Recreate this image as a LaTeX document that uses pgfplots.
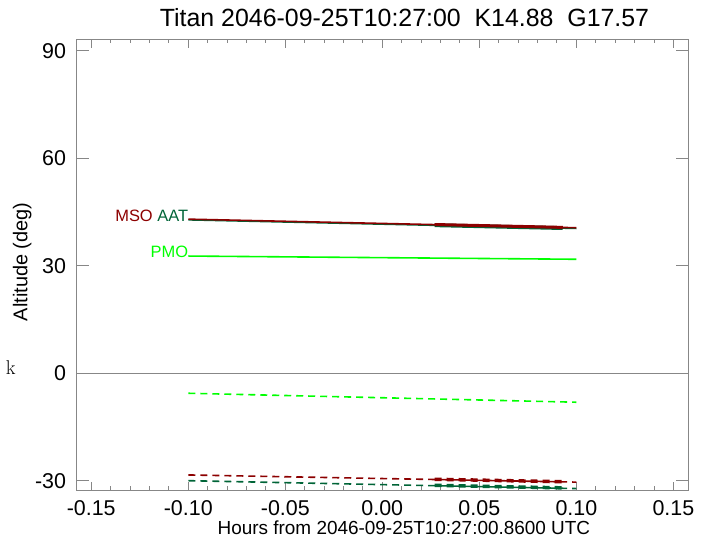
\documentclass[border=0pt]{standalone}
\usepackage{pgfplots}
\pgfplotsset{compat=1.18}
\usepackage{fontspec}
\setmainfont{Liberation Sans}
\definecolor{msored}{RGB}{140,0,0}
\definecolor{aatgreen}{RGB}{0,100,55}
\definecolor{pmogreen}{RGB}{0,255,0}
\definecolor{axgray}{RGB}{135,135,135}
\begin{document}
\begin{tikzpicture}
\path[use as bounding box] (-76.7bp,-49bp) rectangle (629.3bp,490bp);
\begin{axis}[
  scale only axis, width=611.6bp, height=450.7bp,
  at={(0,0)}, anchor=south west,
  xmin=-0.1575, xmax=0.1577, ymin=-32.6, ymax=93.2,
  xtick={-0.15,-0.1,-0.05,0,0.05,0.1,0.15},
  xticklabels={-0.15,-0.10,-0.05,0.00,0.05,0.10,0.15},
  minor x tick num=4,
  ytick={-30,0,30,60,90},
  yticklabels={-30,0,30,60,90},
  axis line style={axgray, line width=0.9bp},
  tick style={axgray, line width=0.9bp},
  major tick length=8.3bp, minor tick length=3.6bp,
  ytick style={/pgfplots/major tick length=12.6bp},
  ticklabel style={font=\fontsize{21.5}{23}\selectfont, text=black, inner sep=0pt},
  xticklabel style={anchor=north, yshift=-10bp},
  yticklabel style={anchor=east, xshift=-10.5bp},
  title={Titan 2046-09-25T10:27:00\ \ K14.88\ \ G17.57},
  title style={font=\fontsize{25}{27}\selectfont, at={(axis description cs:0.536,1)}, anchor=base, yshift=6.5bp, inner sep=0pt},
  xlabel={Hours from 2046-09-25T10:27:00.8600 UTC},
  ylabel={Altitude (deg)},
  xlabel style={font=\fontsize{19}{21}\selectfont, at={(axis description cs:0.535,0)}, anchor=base, yshift=-44bp, inner sep=0pt},
  ylabel style={font=\fontsize{20}{22}\selectfont, at={(axis description cs:-0.089,0.506)}, anchor=center, inner sep=0pt},
  clip=false,
]
% zero line
\addplot[axgray, line width=0.9bp] coordinates {(-0.1575,0) (0.1577,0)};
% AAT solid
\addplot[aatgreen, line width=1.6bp] coordinates {(-0.1,42.8) (0.1,40.4)};
\addplot[aatgreen, line width=3.8bp] coordinates {(0.027,41.3) (0.093,40.5)};
% MSO solid
\addplot[msored, line width=1.6bp] coordinates {(-0.1,43.0) (0.1,40.6)};
\addplot[msored, line width=3.0bp] coordinates {(0.027,41.5) (0.093,40.7)};
% PMO solid
\addplot[pmogreen, line width=1.6bp] coordinates {(-0.1,32.7) (0.1,31.8)};
% PMO dashed
\addplot[pmogreen, line width=1.6bp, dash pattern=on 7bp off 5bp] coordinates {(-0.1,-5.6) (0.1,-8.1)};
% MSO dashed
\addplot[msored, line width=1.6bp, dash pattern=on 7bp off 5bp] coordinates {(-0.1,-28.4) (0.1,-30.4)};
\addplot[msored, line width=3.5bp, dash pattern=on 7bp off 5bp] coordinates {(0.027,-29.6) (0.093,-30.3)};
% AAT dashed
\addplot[aatgreen, line width=1.6bp, dash pattern=on 7bp off 5bp] coordinates {(-0.1,-30.0) (0.1,-32.2)};
\addplot[aatgreen, line width=3.5bp, dash pattern=on 7bp off 5bp] coordinates {(0.027,-31.3) (0.093,-32.0)};
% labels
\node[anchor=base east, inner sep=0, font=\fontsize{16.5}{18}\selectfont] at (axis cs:-0.1,42.4) {\textcolor{msored}{MSO} \textcolor{aatgreen}{AAT}};
\node[anchor=base east, inner sep=0, font=\fontsize{16.5}{18}\selectfont, text=pmogreen] at (axis cs:-0.1,32.3) {PMO};
\end{axis}
\node[font=\fontsize{20}{22}\fontspec{Latin Modern Roman}, anchor=center] at (-66bp,122bp) {k};
\end{tikzpicture}
\end{document}
